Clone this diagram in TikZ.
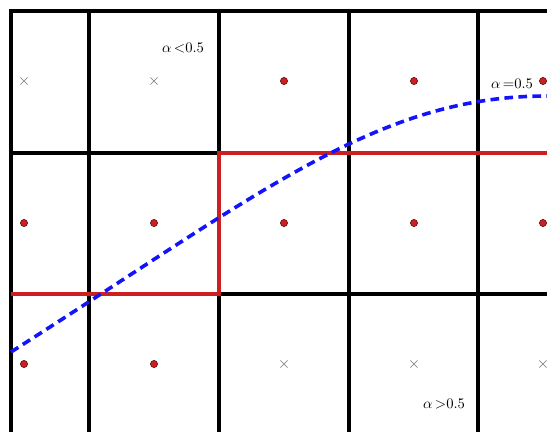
\documentclass[tikz,border=0pt]{standalone}
\usetikzlibrary{calc}
\definecolor{cellred}{RGB}{205,30,32}
\definecolor{curveblue}{RGB}{20,20,250}

\begin{document}
\begin{tikzpicture}[x=0.75pt, y=-0.75pt, line join=miter,
    gridline/.style={line width=3pt, black},
    redline/.style={line width=2.3pt, cellred},
    curveline/.style={line width=2.7pt, curveblue, dash pattern=on 6.5pt off 4pt},
    dot/.style={fill=cellred, draw=black!60!cellred, line width=0.4pt},
    cross/.style={text=black!60, inner sep=0pt, font=\fontsize{12}{14}\selectfont},
    lbl/.style={inner sep=0pt, font=\fontsize{11}{13}\selectfont}]
    \useasboundingbox (0,0) rectangle (547,432);

    \coordinate (TL) at (11,11);
    \coordinate (TR) at (547,11);
    \coordinate (BL) at (11,432);

    % 网格
    \draw[gridline] (TR) -- (TL) -- (BL);
    \foreach \x in {89,219,349,478}
        \draw[gridline] (\x,11) -- (\x,432);
    \foreach \y in {153,294}
        \draw[gridline] (11,\y) -- (547,\y);

    % 红色分界线
    \draw[redline] (11,294) -- (219,294) -- (219,153) -- (547,153);

    % 曲线
    \draw[curveline] (11,352) .. controls (261,193) and (377,96) .. (547,96);

    % 格点
    \foreach \x in {284,414,543}
        \filldraw[dot] (\x,81) circle (2.7pt);
    \foreach \x in {24,154,284,414,543}
        \filldraw[dot] (\x,223) circle (2.7pt);
    \foreach \x in {24,154}
        \filldraw[dot] (\x,364) circle (2.7pt);
    \foreach \x in {24,154}
        \node[cross] (u\x) at (\x,81) {$\times$};
    \foreach \x in {284,414,543}
        \node[cross] (d\x) at (\x,364) {$\times$};

    \node[lbl] (lo) at (183,48) {$\alpha\,{<}0.5$};
    \node[lbl] (mid) at (512,84) {$\alpha\,{=}0.5$};
    \node[lbl] (hi) at (444,404) {$\alpha\,{>}0.5$};
\end{tikzpicture}
\end{document}
